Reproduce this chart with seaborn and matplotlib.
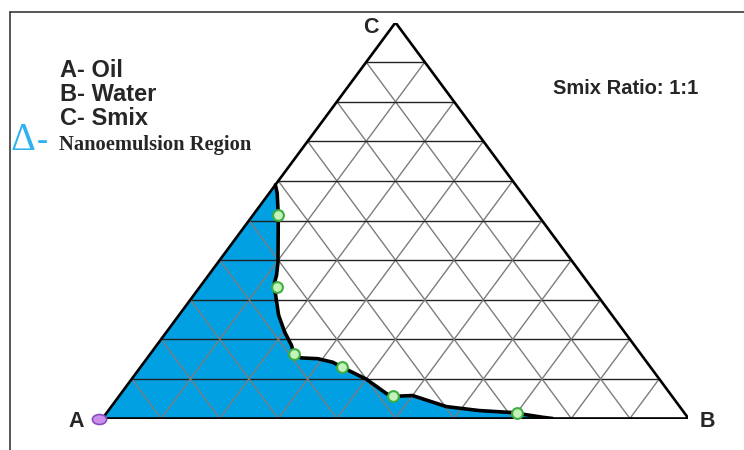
import numpy as np
import pandas as pd
import matplotlib
matplotlib.use("Agg")
import matplotlib.pyplot as plt
from matplotlib.lines import Line2D
from matplotlib.path import Path
from matplotlib.markers import MarkerStyle
from matplotlib.transforms import Affine2D
import seaborn as sns

# Phase boundary of the nanoemulsion region (% w/w)
boundary_oil = [41.0, 41.7, 44.3, 50.3, 52.2, 53.9, 54.9, 56.9, 58.0, 58.5, 59.3, 58.4,
                55.7, 53.6, 52.6, 50.0, 48.4, 47.4, 44.2, 39.8, 34.7, 29.3, 24.7, 23.2]
boundary_water = [0.0, 1.3, 4.3, 10.2, 11.6, 12.4, 14.0, 17.0, 20.2, 23.0, 24.8, 26.3,
                  29.2, 32.2, 34.5, 40.1, 45.3, 47.0, 50.0, 57.2, 63.3, 69.2, 75.0, 76.8]
boundary_smix = [59.0, 57.0, 51.4, 39.5, 36.2, 33.7, 31.1, 26.1, 21.8, 18.5, 15.9, 15.3,
                 15.1, 14.2, 12.9, 9.9, 6.3, 5.6, 5.8, 3.0, 2.0, 1.5, 0.3, 0.0]

# Titration points on the boundary (% w/w)
point_oil = [44.3, 53.7, 59.1, 52.6, 47.7, 28.6]
point_water = [4.3, 13.1, 24.5, 34.5, 46.7, 69.9]
point_smix = [51.4, 33.2, 16.4, 12.9, 5.6, 1.5]

# Starting composition (pure oil vertex)
start_oil = [100.0]
start_water = [0.0]
start_smix = [0.0]

vertex_labels = ["A", "B", "C"]
legend_lines = ["A- Oil", "B- Water", "C- Smix"]
region_label = "Nanoemulsion Region"
ratio_label = "Smix Ratio: 1:1"
grid_levels = [10, 20, 30, 40, 50, 60, 70, 80, 90]


def to_xy(oil, water, smix):
    oil = np.asarray(oil, float)
    water = np.asarray(water, float)
    smix = np.asarray(smix, float)
    tot = oil + water + smix
    b = water / tot
    c = smix / tot
    return b + c / 2.0, c


sns.set_style("white")
W, H = 744, 450
fig = plt.figure(figsize=(W / 100, H / 100), dpi=100)
fig.patch.set_facecolor("white")

# triangle extent in figure pixels
xA, xB, yBase, yTop = 102.5, 688.5, 418.5, 22.5
ax = fig.add_axes([xA / W, (H - yBase) / H, (xB - xA) / W, (yBase - yTop) / H])
ax.set_xlim(0, 1)
ax.set_ylim(0, 1)
ax.axis("off")

# shaded nanoemulsion region
bx, by = to_xy(boundary_oil, boundary_water, boundary_smix)
ax0x, ax0y = to_xy([100], [0], [0])
poly_x = np.concatenate([ax0x, bx])
poly_y = np.concatenate([ax0y, by])
ax.fill(poly_x, poly_y, color="#00A0E2", lw=0, zorder=1)

# ternary grid
for k in grid_levels:
    # constant Smix (horizontal)
    gx, gy = to_xy([100 - k, 0], [0, 100 - k], [k, k])
    ax.plot(gx, gy, color="#222222", lw=1.0, zorder=2, solid_capstyle="butt")
    # constant Water
    gx, gy = to_xy([100 - k, 0], [k, k], [0, 100 - k])
    ax.plot(gx, gy, color="#7d7d7d", lw=1.0, zorder=2, solid_capstyle="butt")
    # constant Oil
    gx, gy = to_xy([k, k], [100 - k, 0], [0, 100 - k])
    ax.plot(gx, gy, color="#7d7d7d", lw=1.0, zorder=2, solid_capstyle="butt")

# triangle outline
tx, ty = to_xy([100, 0, 0, 100], [0, 100, 0, 0], [0, 0, 100, 0])
ax.plot(tx, ty, color="black", lw=1.9, zorder=3, solid_joinstyle="miter")

# boundary curve
bdf = pd.DataFrame({"x": bx, "y": by})
sns.lineplot(data=bdf, x="x", y="y", sort=False, estimator=None, color="black",
             lw=2.6, ax=ax, zorder=4)

# titration points
px, py = to_xy(point_oil, point_water, point_smix)
pdf = pd.DataFrame({"x": px, "y": py})
sns.scatterplot(data=pdf, x="x", y="y", s=60, color="#c4f2bc", edgecolor="#3fae3f",
                linewidth=1.5, ax=ax, zorder=5, clip_on=False)

# starting point as a flattened ellipse
ell = MarkerStyle(Path.unit_circle().transformed(Affine2D().scale(1.35, 0.95)))
sx, sy = to_xy(start_oil, start_water, start_smix)
sdf = pd.DataFrame({"x": sx - 0.006, "y": sy})
sns.scatterplot(data=sdf, x="x", y="y", s=105, marker=ell, color="#c98fea",
                edgecolor="#8a4cc0", linewidth=1.2, ax=ax, zorder=5, clip_on=False)
ax.set_xlabel("")
ax.set_ylabel("")


def ftext(x, y, s, **kw):
    fig.text(x / W, 1 - y / H, s, **kw)


sans = ["Liberation Sans", "DejaVu Sans"]
serif = ["Liberation Serif", "DejaVu Serif"]

# vertex labels
ftext(68, 427, vertex_labels[0], fontsize=15.5, fontweight="bold", family=sans, va="baseline")
ftext(700, 427, vertex_labels[1], fontsize=15.5, fontweight="bold", family=sans, va="baseline")
ftext(363, 33, vertex_labels[2], fontsize=15.5, fontweight="bold", family=sans, va="baseline")

# component key
for i, line in enumerate(legend_lines):
    ftext(60, 77 + 24 * i, line, fontsize=17, fontweight="bold", family=sans, va="baseline")
ftext(11, 150, "\u0394", fontsize=28, family=serif, color="#2fb2ef", va="baseline")
ftext(37, 150, "-", fontsize=24, family=serif, color="#2fb2ef", va="baseline")
ftext(59, 150, region_label, fontsize=14.8, fontweight="bold", family=serif, va="baseline")
ftext(553, 94, ratio_label, fontsize=14.5, fontweight="bold", family=sans, va="baseline")

# frame lines along the top and left
fig.add_artist(Line2D([10 / W, 1.0], [1 - 12 / H, 1 - 12 / H], color="#3a3a3a", lw=1.2))
fig.add_artist(Line2D([10 / W, 10 / W], [1 - 12 / H, 0.0], color="#3a3a3a", lw=1.2))

fig.savefig("out.png", dpi=100, facecolor="white")
